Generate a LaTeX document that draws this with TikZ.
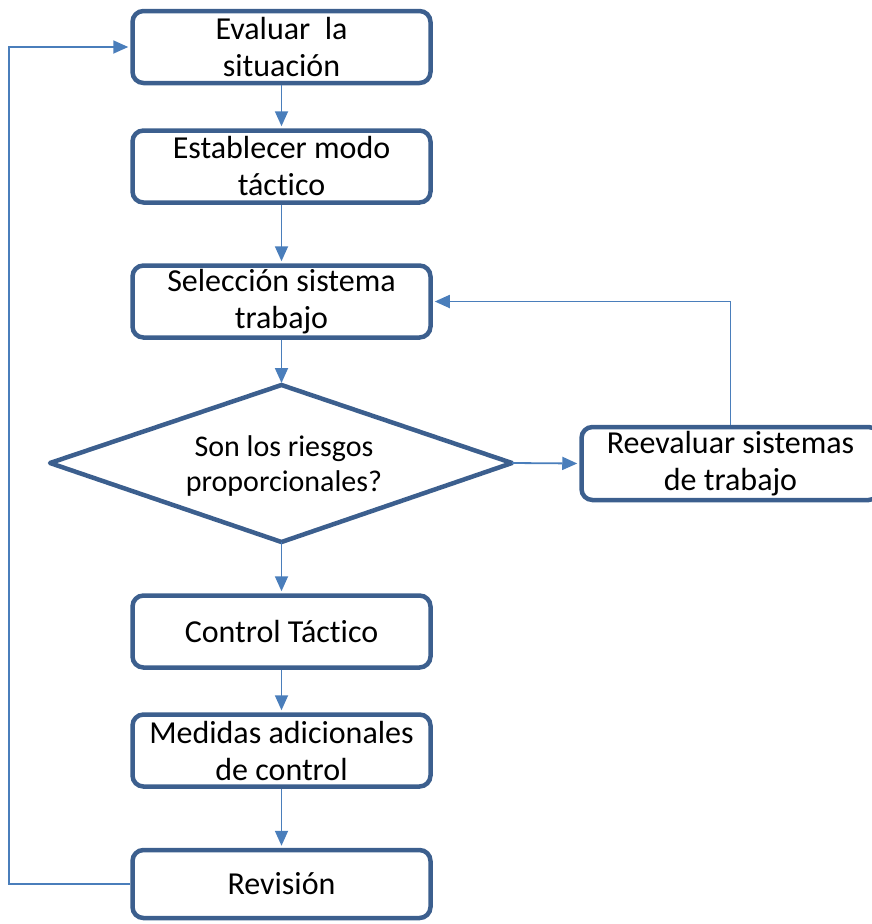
\documentclass[tikz,border=0pt]{standalone}
\usepackage{fontspec}
\setmainfont[Ligatures=NoCommon]{Carlito}
\usetikzlibrary{arrows.meta}
\definecolor{boxc}{HTML}{3C5F8E}
\definecolor{linec}{HTML}{4A7EBB}
\begin{document}
\begin{tikzpicture}[x=1pt,y=-1pt,
  box/.style={draw=boxc, line width=4.5pt, rounded corners=11pt, minimum width=298pt, minimum height=72pt, inner sep=0pt, align=center, font=\fontsize{32}{37}\selectfont},
  dtext/.style={align=center, inner sep=0pt, font=\fontsize{30}{35}\selectfont},
  dline/.style={draw=boxc, line width=4.5pt, line join=round},
  con/.style={draw=linec, line width=1.8pt, shorten >=2pt, -{Triangle[length=15pt,width=13pt]}}]
\useasboundingbox (0,0) rectangle (872,924);
\node[box] (b1) at (281.5,47) {Evaluar\ \ la\\situación};
\node[box] (b2) at (281.5,166.5) {Establecer modo\\táctico};
\node[box] (b3) at (281.5,301.5) {Selección sistema\\trabajo};
\coordinate (dt) at (281.5,385);
\coordinate (dl) at (50,463);
\coordinate (dr) at (512,463);
\coordinate (db) at (281.5,542);
\draw[dline] (dt) -- (dr) -- (db) -- (dl) -- cycle;
\node[dtext] (dm) at (284,466) {Son los riesgos\\proporcionales?};
\node[box] (b4) at (281.5,631.5) {Control Táctico};
\node[box] (b5) at (281.5,750.5) {Medidas adicionales\\de control};
\node[box, minimum height=68pt] (b6) at (281.5,884) {Revisión};
\node[box, minimum height=73pt] (rb) at (730.5,463.5) {Reevaluar sistemas\\de trabajo};
\draw[con] (b1) -- (b2);
\draw[con] (b2) -- (b3);
\draw[con] (b3) -- (dt);
\draw[con] (db) -- (b4);
\draw[con] (b4) -- (b5);
\draw[con] (b5) -- (b6);
\draw[con] (dr) -- (rb.west);
\draw[con] (rb.north) |- (b3.east);
\draw[con] (b6.west) -- ++(-121,0) |- (b1.west);
\end{tikzpicture}
\end{document}
